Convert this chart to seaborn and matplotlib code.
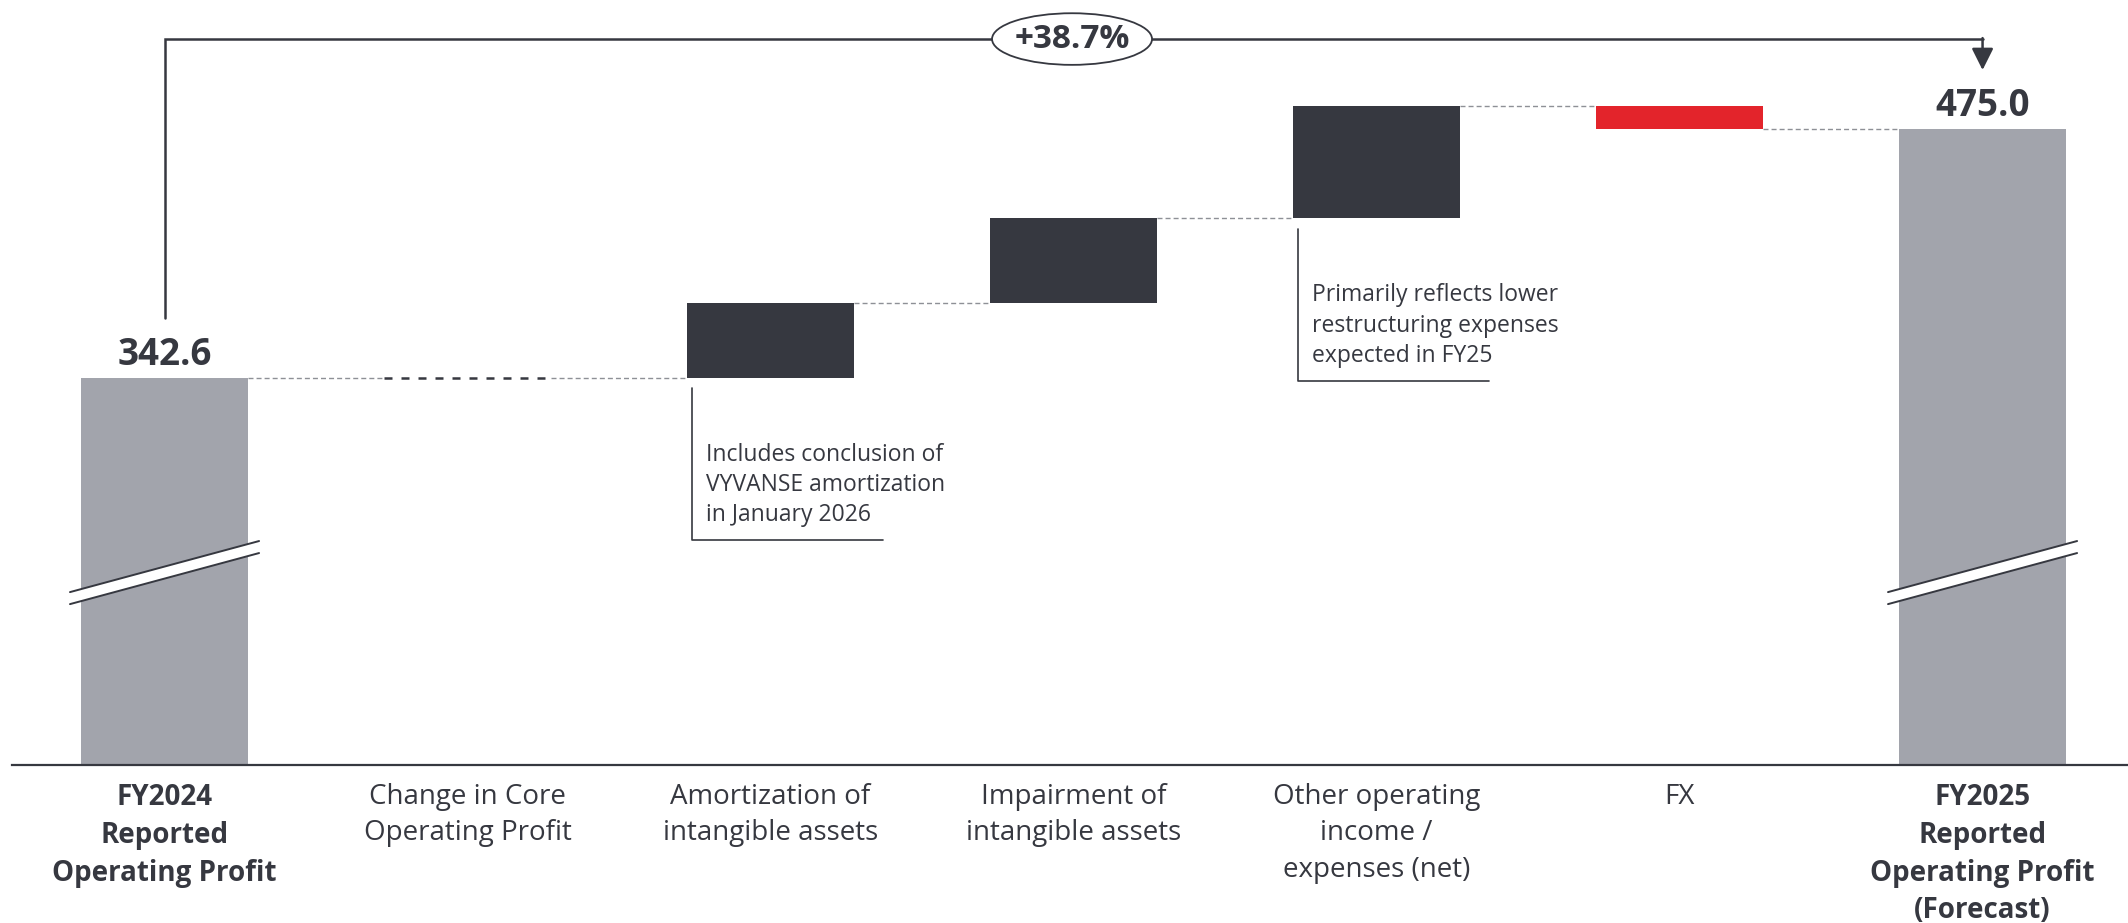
import numpy as np
import pandas as pd
import matplotlib
matplotlib.use("Agg")
import matplotlib.pyplot as plt
from matplotlib.patches import Ellipse, Polygon
import seaborn as sns

# ── Data ────────────────────────────────────────────────
steps = [
    "FY2024\nReported\nOperating Profit",
    "Change in Core\nOperating Profit",
    "Amortization of\nintangible assets",
    "Impairment of\nintangible assets",
    "Other operating\nincome /\nexpenses (net)",
    "FX",
    "FY2025\nReported\nOperating Profit\n(Forecast)",
]
kinds = ["total", "up", "up", "up", "up", "down", "total"]
values = [342.6, 0.0, 39.5, 45.5, 59.5, -12.1, 475.0]
growth_label = "+38.7%"
notes = {
    2: "Includes conclusion of\nVYVANSE amortization\nin January 2026",
    4: "Primarily reflects lower\nrestructuring expenses\nexpected in FY25",
}

# ── Config ──────────────────────────────────────────────
sns.set_theme(style="white")
plt.rcParams["font.family"] = ["Open Sans", "DejaVu Sans"]
DARK = "#363840"
GREY = "#a2a4ac"
RED = "#e3242b"
LINE = "#8e9096"
COLORS = {"total": GREY, "up": DARK, "down": RED}

# running totals -> floating bars
bottoms, heights, ends = [], [], []
run = 0.0
for k, v in zip(kinds, values):
    if k == "total":
        bottoms.append(0.0)
        heights.append(v)
        run = v
    else:
        bottoms.append(run)
        heights.append(v)
        run += v
    ends.append(run)

df = pd.DataFrame({"step": steps, "kind": kinds, "bottom": bottoms, "height": heights})

fig = plt.figure(figsize=(21.28, 9.23), dpi=100)
ax = fig.add_axes([0, 1 - 765 / 923, 1, 765 / 923])

sns.barplot(data=df, x="step", y="height", bottom=df["bottom"].to_numpy(),
            color=GREY, saturation=1, width=0.55, errorbar=None, ax=ax,
            linewidth=0, zorder=2)
bars = list(ax.patches)
for bar, k in zip(bars, kinds):
    bar.set_facecolor(COLORS[k])

ax.set_xlim(-0.543, 6.48)
ax.set_ylim(136.2, 543.7)

# connectors between bars
for i in range(len(bars) - 1):
    x0 = bars[i].get_x() + bars[i].get_width()
    x1 = bars[i + 1].get_x()
    ax.plot([x0, x1], [ends[i], ends[i]], color=LINE, lw=1.0,
            dashes=(3.6, 2.2), zorder=1)

# zero-height step drawn as a dark dashed line
for bar, h, e in zip(bars, heights, ends):
    if h == 0:
        ax.plot([bar.get_x(), bar.get_x() + bar.get_width()], [e, e],
                color=DARK, lw=1.8, dashes=(3.2, 3.6), zorder=3)

# totals: value labels + axis-break marks
for i, (k, v) in enumerate(zip(kinds, values)):
    if k != "total":
        continue
    ax.text(i, v + 12, f"{v:.1f}", ha="center", va="center",
            fontsize=26.5, fontweight="bold", color=DARK)
    xs = [i - 0.312, i + 0.312]
    up = [228.3, 255.5]
    lo = [221.9, 249.1]
    ax.add_patch(Polygon([(xs[0], lo[0]), (xs[1], lo[1]), (xs[1], up[1]), (xs[0], up[0])],
                         closed=True, facecolor="white", edgecolor="none", zorder=4))
    ax.plot(xs, up, color=DARK, lw=1.4, zorder=5)
    ax.plot(xs, lo, color=DARK, lw=1.4, zorder=5)

# bridge arrow with growth bubble
first, last = 0, len(values) - 1
level = 522.9
ax.plot([first, first, last], [values[first] + 31.7, level, level],
        color=DARK, lw=1.8, solid_joinstyle="miter", zorder=3)
ax.annotate("", xy=(last, values[last] + 31.4), xytext=(last, level + 0.5),
            arrowprops=dict(arrowstyle="-|>,head_length=0.6,head_width=0.3",
                            color=DARK, lw=1.8, shrinkA=0, shrinkB=0,
                            mutation_scale=22), zorder=3)
ax.add_patch(Ellipse((2.995, level), width=0.528, height=27.5,
                     facecolor="white", edgecolor=DARK, lw=1.3, zorder=6))
ax.text(2.995, level, growth_label, ha="center", va="center",
        fontsize=24, fontweight="bold", color=DARK, zorder=7)

# bracket notes
for i, txt in notes.items():
    b = bars[i]
    xl = b.get_x() + 0.016
    ytop = bottoms[i] - 5.8
    ybot = ytop - 81
    ax.plot([xl, xl, xl + 0.63], [ytop, ybot, ybot], color=DARK, lw=1.2, zorder=3)
    ax.text(xl + 0.045, ybot + 29.5, txt, ha="left", va="center",
            fontsize=16.5, color=DARK, linespacing=1.35)

# axis styling
for s in ["top", "left", "right"]:
    ax.spines[s].set_visible(False)
ax.spines["bottom"].set_color(DARK)
ax.spines["bottom"].set_linewidth(1.6)
ax.spines["bottom"].set_bounds(-0.503, 6.48)
ax.set_yticks([])
ax.set_xlabel("")
ax.set_ylabel("")
ax.set_xticks(range(len(steps)))
ax.set_xticklabels(steps, fontsize=20, color=DARK, linespacing=1.4)
ax.tick_params(axis="x", length=0, pad=13)
for lbl, k in zip(ax.get_xticklabels(), kinds):
    if k == "total":
        lbl.set_fontweight("bold")

fig.savefig("out.png", dpi=100, facecolor="white")
plt.close(fig)
